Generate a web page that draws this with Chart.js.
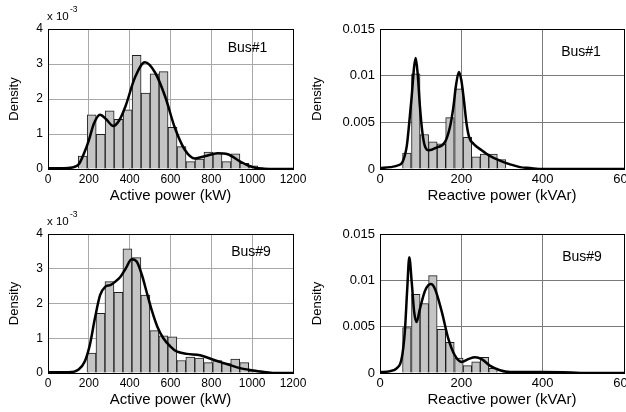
<!DOCTYPE html>
<html>
<head>
<meta charset="utf-8">
<script src="https://cdn.jsdelivr.net/npm/chart.js@4"></script>
<style>
  html, body { margin: 0; padding: 0; background: #fff; overflow: hidden; }
  #wrap { position: relative; width: 626px; height: 412px; overflow: hidden; }
  canvas { position: absolute; }
</style>
</head>
<body>
<div id="wrap">
  <canvas id="p1" width="310" height="205" style="left:0;top:0"></canvas>
  <canvas id="q1" width="340" height="205" style="left:310px;top:0"></canvas>
  <canvas id="p9" width="310" height="207" style="left:0;top:205px"></canvas>
  <canvas id="q9" width="340" height="207" style="left:310px;top:205px"></canvas>
</div>
<script>
// Bus#1, active power (density in units of 1e-3)
const binsP1 = [170, 214, 258, 302, 346, 390, 434, 478, 522, 566, 610, 654, 698, 742, 786, 830, 874, 918, 962, 1006, 1050];
const histP1 = [0.37, 1.55, 0.99, 1.66, 1.42, 1.69, 3.25, 2.17, 2.72, 2.78, 1.19, 0.64, 0.21, 0.28, 0.48, 0.45, 0.21, 0.43, 0.16, 0.09, 0.02];
const kdeXP1 = [0, 50, 100, 150, 180, 200, 225, 255, 285, 320, 350, 380, 425, 475, 525, 575, 620, 670, 720, 770, 830, 880, 940, 980, 1020, 1060, 1100, 1200];
const kdeYP1 = [0.02, 0.02, 0.03, 0.13, 0.5, 0.82, 1.3, 1.55, 1.42, 1.23, 1.4, 1.8, 2.6, 3.05, 2.75, 2.05, 1.2, 0.55, 0.3, 0.37, 0.45, 0.42, 0.22, 0.1, 0.03, 0.01, 0, 0];

// Bus#1, reactive power
const binsQ1 = [66, 88, 109, 130, 151, 172, 194, 215, 236, 257, 278, 299];
const histQ1 = [0.0017, 0.0102, 0.0037, 0.0029, 0.0027, 0.0055, 0.0086, 0.0034, 0.0013, 0.0016, 0.0016, 0.0010];
const kdeXQ1 = [0, 25, 45, 56, 66, 72, 78, 84, 88, 93, 98, 104, 110, 120, 139, 160, 172, 180, 187, 194, 200, 206, 213, 220, 230, 250, 270, 295, 320, 344, 369, 400, 600];
const kdeYQ1 = [0.0001, 0.0002, 0.0004, 0.0008, 0.0025, 0.005, 0.0078, 0.011, 0.0119, 0.010, 0.0068, 0.004, 0.0025, 0.002, 0.0023, 0.0029, 0.0045, 0.0065, 0.009, 0.0104, 0.0095, 0.0075, 0.0048, 0.0033, 0.0027, 0.002, 0.0014, 0.0009, 0.0005, 0.0002, 0.0001, 0, 0];

// Bus#9, active power (density in units of 1e-3)
const binsP9 = [213, 257, 301, 345, 389, 433, 477, 521, 565, 609, 653, 697, 741, 785, 829, 873, 917, 961, 1005, 1049];
const histP9 = [0.57, 1.72, 2.63, 2.32, 3.57, 3.32, 2.24, 1.22, 1.07, 1.04, 0.36, 0.46, 0.43, 0.30, 0.36, 0.27, 0.40, 0.30, 0.05, 0.03];
const kdeXP9 = [0, 50, 100, 150, 180, 205, 230, 255, 280, 305, 330, 355, 380, 410, 435, 460, 485, 510, 535, 565, 600, 630, 680, 745, 810, 875, 940, 1005, 1070, 1100, 1200];
const kdeYP9 = [0.02, 0.02, 0.02, 0.1, 0.33, 0.81, 1.58, 2.24, 2.48, 2.53, 2.63, 2.77, 3.0, 3.27, 3.2, 2.82, 2.29, 1.77, 1.34, 1.0, 0.76, 0.62, 0.55, 0.51, 0.38, 0.26, 0.14, 0.07, 0.02, 0, 0];

// Bus#9, reactive power
const binsQ9 = [66, 88, 109, 130, 151, 172, 194, 215, 236, 257, 278];
const histQ9 = [0.0049, 0.0085, 0.0075, 0.0105, 0.0047, 0.0033, 0.0016, 0.0008, 0.0012, 0.0017, 0.0005];
const kdeXQ9 = [0, 25, 41, 53, 61, 67, 72, 78, 84, 90, 98, 111, 125, 135, 152, 168, 184, 201, 217, 234, 250, 270, 295, 320, 400, 470, 500, 600];
const kdeYQ9 = [0.0001, 0.0002, 0.0005, 0.0015, 0.0044, 0.0091, 0.0125, 0.0098, 0.0066, 0.0055, 0.0069, 0.0089, 0.0096, 0.0091, 0.0066, 0.0037, 0.0019, 0.0012, 0.0015, 0.0017, 0.0015, 0.0008, 0.0003, 0.0001, 0.0001, 0.00005, 0, 0];

Chart.defaults.font.family = "'Liberation Sans', Arial, sans-serif";
Chart.defaults.color = '#000';

const pairs = (xs, ys) => xs.map((x, i) => ({ x: x, y: ys[i] }));

// box around the axes plus the free text (bus name, exponent)
const extras = {
  id: 'extras',
  afterDatasetsDraw(chart) {
    const a = chart.chartArea, ctx = chart.ctx, o = chart.options.plugins.extras;
    ctx.save();
    ctx.strokeStyle = '#000';
    ctx.lineWidth = 1;
    ctx.strokeRect(Math.round(a.left) + 0.5, Math.round(a.top) + 0.5,
      Math.round(a.right - a.left), Math.round(a.bottom - a.top));
    ctx.fillStyle = '#000';
    ctx.textBaseline = 'middle';
    ctx.textAlign = 'center';
    ctx.font = "14px 'Liberation Sans', Arial, sans-serif";
    ctx.fillText(o.bus, a.left + o.dx, a.top + o.dy);
    if (o.exp) {
      ctx.textAlign = 'left';
      ctx.font = "11.5px 'Liberation Sans', Arial, sans-serif";
      ctx.fillText('x 10', a.left - 1, a.top - 12.5);
      ctx.font = "8.5px 'Liberation Sans', Arial, sans-serif";
      ctx.fillText('-3', a.left + 22, a.top - 19);
    }
    ctx.restore();
  }
};

function drawPanel(id, bins, hist, kx, ky, o) {
  return new Chart(document.getElementById(id), {
    type: 'bar',
    data: {
      datasets: [{
        type: 'line',
        data: pairs(kx, ky),
        borderColor: '#000',
        borderWidth: 2.5,
        pointRadius: 0,
        cubicInterpolationMode: 'monotone',
        order: 0
      }, {
        type: 'bar',
        data: pairs(bins, hist),
        backgroundColor: '#c4c4c4',
        borderColor: '#1e1e1e',
        borderWidth: 1,
        barPercentage: 1,
        categoryPercentage: 1,
        order: 1
      }]
    },
    options: {
      responsive: false,
      animation: false,
      devicePixelRatio: 1,
      layout: { padding: o.pad },
      plugins: {
        legend: { display: false },
        tooltip: { enabled: false },
        extras: { bus: o.bus, dx: o.dx, dy: o.dy, exp: o.exp }
      },
      scales: {
        x: {
          type: 'linear',
          min: 0, max: o.xmax,
          offset: false,
          grid: { offset: false, color: o.grid, drawTicks: false },
          border: { color: '#000' },
          ticks: { stepSize: 200, padding: 3, maxRotation: 0, font: { size: o.tick },
                   callback: v => String(v) },
          title: { display: true, text: o.xtitle, padding: 0, font: { size: 15 } },
          afterFit: s => { s.height = 36; }
        },
        y: {
          min: 0, max: o.ymax,
          grid: { color: o.grid, drawTicks: false },
          border: { color: '#000' },
          ticks: { stepSize: o.ystep, padding: 5, font: { size: o.tick },
                   callback: v => String(+v.toFixed(3)) },
          title: { display: true, text: 'Density', padding: 0, font: { size: 13 } },
          afterFit: s => { s.width = o.yw; }
        }
      }
    },
    plugins: [extras]
  });
}

drawPanel('p1', binsP1, histP1, kdeXP1, kdeYP1, {
  pad: { left: 7, top: 29, right: 17, bottom: 0 }, yw: 41, xmax: 1200, ymax: 4, ystep: 1,
  grid: '#a8a8a8', tick: 12, xtitle: 'Active power (kW)', bus: 'Bus#1', dx: 199.5, dy: 19, exp: true
});
drawPanel('q1', binsQ1, histQ1, kdeXQ1, kdeYQ1, {
  pad: { left: 0, top: 29, right: 26, bottom: 0 }, yw: 70, xmax: 600, ymax: 0.015, ystep: 0.005,
  grid: '#7a7a7a', tick: 13, xtitle: 'Reactive power (kVAr)', bus: 'Bus#1', dx: 201, dy: 23, exp: false
});
drawPanel('p9', binsP9, histP9, kdeXP9, kdeYP9, {
  pad: { left: 7, top: 29, right: 17, bottom: 3 }, yw: 41, xmax: 1200, ymax: 4, ystep: 1,
  grid: '#a8a8a8', tick: 12, xtitle: 'Active power (kW)', bus: 'Bus#9', dx: 203, dy: 18, exp: true
});
drawPanel('q9', binsQ9, histQ9, kdeXQ9, kdeYQ9, {
  pad: { left: 0, top: 29, right: 26, bottom: 3 }, yw: 70, xmax: 600, ymax: 0.015, ystep: 0.005,
  grid: '#7a7a7a', tick: 13, xtitle: 'Reactive power (kVAr)', bus: 'Bus#9', dx: 202, dy: 23, exp: false
});
</script>
</body>
</html>
